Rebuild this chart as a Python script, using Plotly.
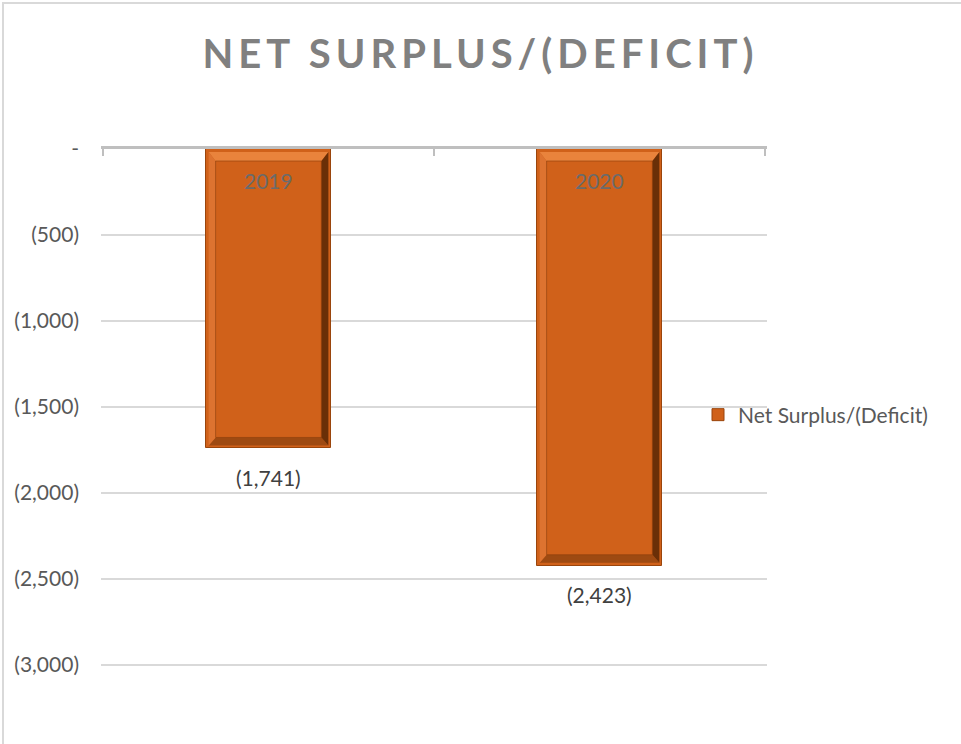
import plotly.graph_objects as go

# ---- data ----
years = ["2019", "2020"]
values = [-1741, -2423]
y_tickvals = [0, -500, -1000, -1500, -2000, -2500, -3000]
y_ticktext = ["-", "(500)", "(1,000)", "(1,500)", "(2,000)", "(2,500)", "(3,000)"]
series_name = "Net Surplus/(Deficit)"
title_text = "NET SURPLUS/(DEFICIT)"

# ---- layout constants (pixels) ----
W, H = 961, 744
PLOT_L, PLOT_R, PLOT_T, PLOT_B = 103, 765, 149, 665   # nominal category/value box
PAD = 2                                              # small pad so edge ticks/grid show
n = len(years)
ymin, ymax = min(y_tickvals), max(y_tickvals)
px_x = (PLOT_R - PLOT_L) / n
px_y = (PLOT_B - PLOT_T) / (ymax - ymin)
X_RANGE = [-0.5 - PAD / px_x, n - 0.5 + PAD / px_x]
Y_RANGE = [ymin - PAD / px_y, ymax]
ML = PLOT_L - PAD
MR = W - PLOT_R - PAD
MT = PLOT_T
MB = H - PLOT_B - PAD
PW = W - ML - MR
PH = H - MT - MB
BAR_W = 0.38
FONT = "Lato, 'Open Sans', sans-serif"

xs = list(range(n))

fig = go.Figure()
fig.add_trace(go.Bar(
    x=xs, y=values, width=BAR_W, name=series_name,
    marker=dict(color="#D0611A", line=dict(color="#9A450C", width=1)),
    showlegend=True, hoverinfo="skip",
))

def dx(p):
    return p / px_x

def dy(p):
    return p / px_y

shapes = []
r, bs, bt, bb = 3, 7, 9, 8
for cx, v in zip(xs, values):
    xo0 = cx - BAR_W / 2 + dx(r)
    xo1 = cx + BAR_W / 2 - dx(r)
    yo0 = 0 - dy(r)
    yo1 = v + dy(r)
    xi0 = xo0 + dx(bs)
    xi1 = xo1 - dx(bs)
    yi0 = yo0 - dy(bt)
    yi1 = yo1 + dy(bb)
    polys = [
        ([(xo0, yo0), (xo1, yo0), (xi1, yi0), (xi0, yi0)], "#E9833C"),  # top
        ([(xo0, yo1), (xo1, yo1), (xi1, yi1), (xi0, yi1)], "#9E4A12"),  # bottom
        ([(xo0, yo0), (xi0, yi0), (xi0, yi1), (xo0, yo1)], "#DD7330"),  # left
        ([(xo1, yo0), (xi1, yi0), (xi1, yi1), (xo1, yo1)], "#6A2F07"),  # right
    ]
    for pts, col in polys:
        path = "M " + " L ".join(f"{a},{b}" for a, b in pts) + " Z"
        shapes.append(dict(type="path", xref="x", yref="y", path=path,
                           fillcolor=col, line=dict(width=0), layer="above"))
    shapes.append(dict(type="rect", xref="x", yref="y", x0=xi0, x1=xi1, y0=yi1, y1=yi0,
                       line=dict(color="#8A3E0C", width=0.6), fillcolor="rgba(0,0,0,0)",
                       layer="above"))

# outer border of chart
shapes.append(dict(type="rect", xref="paper", yref="paper",
                   x0=(3 - ML) / PW, x1=(W + 10 - ML) / PW,
                   y0=-(MB + 10) / PH, y1=1 + (MT - 3) / PH,
                   line=dict(color="#D9D9D9", width=2), fillcolor="rgba(0,0,0,0)",
                   layer="below"))

annotations = []
for cx, yr, v in zip(xs, years, values):
    annotations.append(dict(x=cx, y=0, xref="x", yref="y", text=yr, showarrow=False,
                            yshift=-31, yanchor="middle",
                            font=dict(family=FONT, size=21, color="#6B6B6B")))
    annotations.append(dict(x=cx, y=v, xref="x", yref="y", text=f"({abs(v):,})",
                            showarrow=False, yshift=-29, yanchor="middle",
                            font=dict(family=FONT, size=21, color="#404040")))

tick_bounds = [x - 0.5 for x in xs] + [xs[-1] + 0.5]

fig.update_layout(
    width=W, height=H,
    margin=dict(l=ML, r=MR, t=MT, b=MB, pad=0),
    paper_bgcolor="white", plot_bgcolor="white",
    title=dict(text=f"<b>{title_text}</b>", xref="container", x=0.5, xanchor="center",
               yref="container", y=1 - 54 / H, yanchor="middle",
               font=dict(family=FONT, size=40, color="#808080")),
    xaxis=dict(range=X_RANGE, side="top", showline=True, linecolor="#BFBFBF", linewidth=3,
               ticks="inside", tickmode="array", tickvals=tick_bounds, ticklen=7,
               tickwidth=2, tickcolor="#BFBFBF", showticklabels=False, showgrid=False,
               zeroline=False, fixedrange=True),
    yaxis=dict(range=Y_RANGE, tickmode="array", tickvals=y_tickvals, ticktext=y_ticktext,
               showgrid=True, gridcolor="#D9D9D9", gridwidth=1.5, zeroline=False,
               showline=False, ticks="", ticklabelstandoff=23 - PAD,
               tickfont=dict(family=FONT, size=21, color="#595959"), fixedrange=True),
    legend=dict(x=(698 - ML) / PW, xanchor="left", y=(H - MB - 415) / PH, yanchor="middle",
                font=dict(family=FONT, size=21, color="#595959"),
                bgcolor="rgba(0,0,0,0)", itemwidth=30, tracegroupgap=0),
    shapes=shapes,
    annotations=annotations,
    bargap=0,
)

post = (
    "document.body.style.margin='0';"
    "document.querySelectorAll('.gtitle').forEach(function(t){t.style.letterSpacing='5px';});"
)
fig.write_html("out.html", post_script=post, config={"displayModeBar": False})
